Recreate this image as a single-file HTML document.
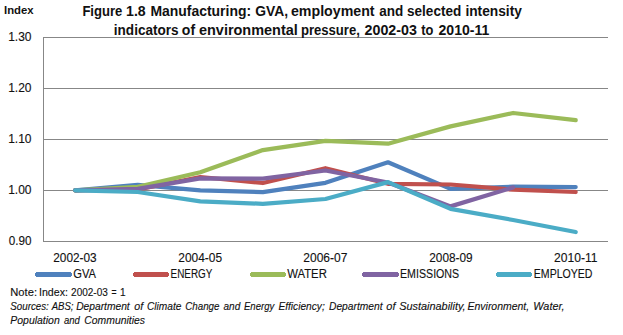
<!DOCTYPE html>
<html><head><meta charset="utf-8"><style>
html,body{margin:0;padding:0;background:#fff;width:623px;height:335px;overflow:hidden}
svg{display:block}
text{font-family:"Liberation Sans",sans-serif;fill:#111;stroke:#111;stroke-width:0.12px}
text[font-weight=bold]{stroke:none}
</style></head><body>
<svg width="623" height="335" viewBox="0 0 623 335">
<rect width="623" height="335" fill="#fff"/>
<g stroke="#878787" stroke-width="1" shape-rendering="crispEdges"><line x1="43" y1="37.5" x2="608" y2="37.5"/><line x1="43" y1="88.5" x2="608" y2="88.5"/><line x1="43" y1="139.5" x2="608" y2="139.5"/><line x1="43" y1="190.5" x2="608" y2="190.5"/><line x1="43" y1="241.5" x2="608" y2="241.5"/><line x1="43.5" y1="37" x2="43.5" y2="242"/></g>
<g fill="none" stroke-width="4.25" stroke-linecap="round" stroke-linejoin="round"><path d="M75.20,190.30 L137.76,184.80 L200.32,190.30 L262.88,192.20 L325.44,182.80 L388.00,162.30 L450.56,188.90 L513.12,186.70 L575.68,187.05" stroke="#4F81BD"/><path d="M75.20,190.30 L137.76,189.50 L200.32,177.00 L262.88,183.00 L325.44,168.20 L388.00,183.80 L450.56,184.50 L513.12,189.70 L575.68,192.00" stroke="#C0504D"/><path d="M75.20,190.30 L137.76,186.80 L200.32,172.20 L262.88,150.10 L325.44,140.90 L388.00,143.70 L450.56,126.40 L513.12,113.00 L575.68,120.20" stroke="#9BBB59"/><path d="M75.20,190.30 L137.76,188.90 L200.32,178.40 L262.88,178.60 L325.44,170.50 L388.00,182.50 L450.56,206.40 L513.12,187.40" stroke="#8064A2"/><path d="M75.20,190.30 L137.76,192.00 L200.32,201.30 L262.88,203.80 L325.44,199.00 L388.00,182.10 L450.56,208.80 L513.12,220.00 L575.68,232.00" stroke="#4BACC6"/></g>
<g shape-rendering="crispEdges"><rect x="36" y="272" width="35" height="5" fill="#4F81BD"/><rect x="35" y="273" width="37" height="3" fill="#4F81BD"/><rect x="134" y="272" width="34" height="5" fill="#C0504D"/><rect x="133" y="273" width="36" height="3" fill="#C0504D"/><rect x="251" y="272" width="34" height="5" fill="#9BBB59"/><rect x="250" y="273" width="36" height="3" fill="#9BBB59"/><rect x="363" y="272" width="35" height="5" fill="#8064A2"/><rect x="362" y="273" width="37" height="3" fill="#8064A2"/><rect x="497" y="272" width="34" height="5" fill="#4BACC6"/><rect x="496" y="273" width="36" height="3" fill="#4BACC6"/></g>
<text x="4.00" y="13.80" font-size="11.8" textLength="29.58" lengthAdjust="spacingAndGlyphs" font-weight="bold">Index</text><text x="82.40" y="15.75" font-size="14" textLength="39.84" lengthAdjust="spacingAndGlyphs" font-weight="bold">Figure</text><text x="126.06" y="15.75" font-size="14" textLength="19.68" lengthAdjust="spacingAndGlyphs" font-weight="bold">1.8</text><text x="150.40" y="15.75" font-size="14" textLength="100.70" lengthAdjust="spacingAndGlyphs" font-weight="bold">Manufacturing:</text><text x="255.16" y="15.75" font-size="14" textLength="32.84" lengthAdjust="spacingAndGlyphs" font-weight="bold">GVA,</text><text x="290.98" y="15.75" font-size="14" textLength="83.58" lengthAdjust="spacingAndGlyphs" font-weight="bold">employment</text><text x="379.34" y="15.75" font-size="14" textLength="24.00" lengthAdjust="spacingAndGlyphs" font-weight="bold">and</text><text x="407.08" y="15.75" font-size="14" textLength="54.10" lengthAdjust="spacingAndGlyphs" font-weight="bold">selected</text><text x="465.40" y="15.75" font-size="14" textLength="56.50" lengthAdjust="spacingAndGlyphs" font-weight="bold">intensity</text><text x="113.82" y="34.60" font-size="14" textLength="64.76" lengthAdjust="spacingAndGlyphs" font-weight="bold">indicators</text><text x="181.82" y="34.60" font-size="14" textLength="13.24" lengthAdjust="spacingAndGlyphs" font-weight="bold">of</text><text x="198.98" y="34.60" font-size="14" textLength="98.86" lengthAdjust="spacingAndGlyphs" font-weight="bold">environmental</text><text x="300.90" y="34.60" font-size="14" textLength="59.02" lengthAdjust="spacingAndGlyphs" font-weight="bold">pressure,</text><text x="364.58" y="34.60" font-size="14" textLength="52.34" lengthAdjust="spacingAndGlyphs" font-weight="bold">2002-03</text><text x="421.34" y="34.60" font-size="14" textLength="12.14" lengthAdjust="spacingAndGlyphs" font-weight="bold">to</text><text x="438.50" y="34.60" font-size="14" textLength="50.90" lengthAdjust="spacingAndGlyphs" font-weight="bold">2010-11</text><text x="8.16" y="40.84" font-size="12" textLength="23.34" lengthAdjust="spacingAndGlyphs">1.30</text><text x="8.16" y="91.84" font-size="12" textLength="23.34" lengthAdjust="spacingAndGlyphs">1.20</text><text x="8.16" y="142.84" font-size="12" textLength="23.34" lengthAdjust="spacingAndGlyphs">1.10</text><text x="8.16" y="193.84" font-size="12" textLength="23.34" lengthAdjust="spacingAndGlyphs">1.00</text><text x="8.76" y="244.84" font-size="12" textLength="22.74" lengthAdjust="spacingAndGlyphs">0.90</text><text x="53.26" y="261.60" font-size="12" textLength="43.40" lengthAdjust="spacingAndGlyphs">2002-03</text><text x="178.34" y="261.60" font-size="12" textLength="43.74" lengthAdjust="spacingAndGlyphs">2004-05</text><text x="303.34" y="261.60" font-size="12" textLength="43.98" lengthAdjust="spacingAndGlyphs">2006-07</text><text x="429.26" y="261.60" font-size="12" textLength="43.32" lengthAdjust="spacingAndGlyphs">2008-09</text><text x="554.08" y="261.60" font-size="12" textLength="43.42" lengthAdjust="spacingAndGlyphs">2010-11</text><text x="73.26" y="277.60" font-size="12" textLength="22.72" lengthAdjust="spacingAndGlyphs">GVA</text><text x="170.58" y="277.60" font-size="12" textLength="41.82" lengthAdjust="spacingAndGlyphs">ENERGY</text><text x="287.18" y="277.60" font-size="12" textLength="39.66" lengthAdjust="spacingAndGlyphs">WATER</text><text x="400.00" y="277.60" font-size="12" textLength="59.16" lengthAdjust="spacingAndGlyphs">EMISSIONS</text><text x="533.84" y="277.60" font-size="12" textLength="58.66" lengthAdjust="spacingAndGlyphs">EMPLOYED</text><text x="10.32" y="295.80" font-size="10.2" textLength="26.68" lengthAdjust="spacingAndGlyphs">Note:</text><text x="38.98" y="295.80" font-size="10.2" textLength="28.94" lengthAdjust="spacingAndGlyphs">Index:</text><text x="71.08" y="295.80" font-size="10.2" textLength="36.74" lengthAdjust="spacingAndGlyphs">2002-03</text><text x="111.58" y="295.80" font-size="10.2" textLength="5.00" lengthAdjust="spacingAndGlyphs">=</text><text x="119.98" y="295.80" font-size="10.2" textLength="5.60" lengthAdjust="spacingAndGlyphs">1</text><text x="10.34" y="309.80" font-size="10.2" textLength="38.40" lengthAdjust="spacingAndGlyphs" font-style="italic">Sources:</text><text x="51.68" y="309.80" font-size="10.2" textLength="21.80" lengthAdjust="spacingAndGlyphs" font-style="italic">ABS;</text><text x="76.16" y="309.80" font-size="10.2" textLength="53.56" lengthAdjust="spacingAndGlyphs" font-style="italic">Department</text><text x="134.32" y="309.80" font-size="10.2" textLength="8.88" lengthAdjust="spacingAndGlyphs" font-style="italic">of</text><text x="146.98" y="309.80" font-size="10.2" textLength="34.50" lengthAdjust="spacingAndGlyphs" font-style="italic">Climate</text><text x="185.24" y="309.80" font-size="10.2" textLength="34.26" lengthAdjust="spacingAndGlyphs" font-style="italic">Change</text><text x="223.50" y="309.80" font-size="10.2" textLength="16.72" lengthAdjust="spacingAndGlyphs" font-style="italic">and</text><text x="244.00" y="309.80" font-size="10.2" textLength="30.22" lengthAdjust="spacingAndGlyphs" font-style="italic">Energy</text><text x="278.42" y="309.80" font-size="10.2" textLength="46.32" lengthAdjust="spacingAndGlyphs" font-style="italic">Efficiency;</text><text x="329.00" y="309.80" font-size="10.2" textLength="53.56" lengthAdjust="spacingAndGlyphs" font-style="italic">Department</text><text x="386.32" y="309.80" font-size="10.2" textLength="9.14" lengthAdjust="spacingAndGlyphs" font-style="italic">of</text><text x="399.24" y="309.80" font-size="10.2" textLength="66.36" lengthAdjust="spacingAndGlyphs" font-style="italic">Sustainability,</text><text x="467.58" y="309.80" font-size="10.2" textLength="61.52" lengthAdjust="spacingAndGlyphs" font-style="italic">Environment,</text><text x="533.32" y="309.80" font-size="10.2" textLength="31.20" lengthAdjust="spacingAndGlyphs" font-style="italic">Water,</text><text x="10.32" y="323.50" font-size="10.2" textLength="49.42" lengthAdjust="spacingAndGlyphs" font-style="italic">Population</text><text x="64.00" y="323.50" font-size="10.2" textLength="15.88" lengthAdjust="spacingAndGlyphs" font-style="italic">and</text><text x="84.32" y="323.50" font-size="10.2" textLength="60.68" lengthAdjust="spacingAndGlyphs" font-style="italic">Communities</text>
</svg>
</body></html>
